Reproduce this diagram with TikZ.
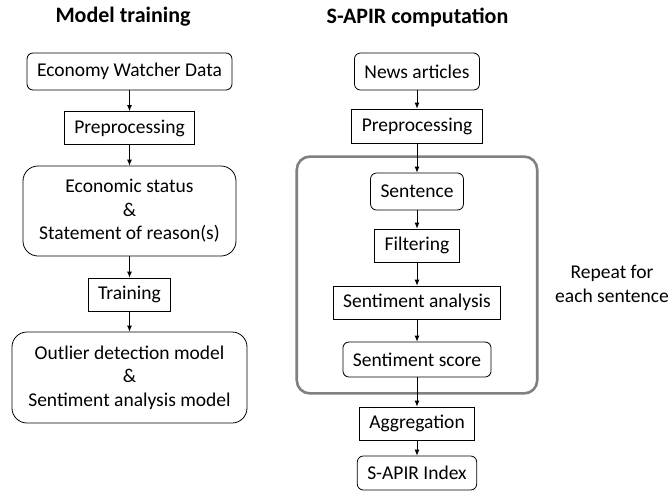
\documentclass[tikz,border=0pt]{standalone}
\usepackage{fontspec}
\setmainfont{Carlito}
\usetikzlibrary{positioning,fit,arrows.meta}
\tikzset{
    >={Latex[length=6pt,width=5pt]}, % small filled heads
    every node/.style={font=\fontsize{19.5}{23.5}\selectfont},
    process/.style={draw, rectangle, line width=0.8pt, inner xsep=10pt, minimum height=33pt},
    data/.style={draw, rectangle, rounded corners=6pt, line width=0.8pt, inner xsep=10pt, minimum height=37pt},
    result/.style={data, rounded corners=15pt, align=center, inner ysep=6pt},
    title/.style={font=\fontsize{22}{26}\selectfont\bfseries},
}

\begin{document}
\begin{tikzpicture}[x=1pt,y=1pt,on grid,line width=0.8pt]
    \useasboundingbox (0,0) rectangle (670,-491);
    % left column: model training
    \node[title] (t_left) at (123,-17) {Model training};
    \node[data] (eco) at (129.5,-71.5) {Economy Watcher Data};
    \node[process] (prep_l) [below=56.5pt of eco] {Preprocessing};
    \node[result, minimum width=213pt, minimum height=90pt] (status) [below=83pt of prep_l] {Economic status\\\&\\Statement of reason(s)};
    \node[process] (train) [below=83.5pt of status] {Training};
    \node[result, minimum width=235pt, minimum height=91pt] (models) [below=83pt of train] {Outlier detection model\\\&\\Sentiment analysis model};
    % right column: S-APIR computation
    \node[title] (t_right) at (417.5,-17) {S-APIR computation};
    \node[data] (news) at (417,-71.5) {News articles};
    \node[process, minimum height=34pt] (prep_r) [below=54.5pt of news] {Preprocessing};
    \node[data] (sent) [below=65.5pt of prep_r] {Sentence};
    \node[process] (filt) [below=54pt of sent] {Filtering};
    \node[process] (sana) [below=57pt of filt] {Sentiment analysis};
    \node[data, minimum height=35pt] (score) [below=57pt of sana] {Sentiment score};
    \node[process] (aggr) [below=64pt of score] {Aggregation};
    \node[data, minimum height=34pt] (index) [below=49.5pt of aggr] {S-APIR Index};
    % loop over sentences
    \node[draw=black!50, line width=2.6pt, rounded corners=13pt, inner xsep=36pt, inner ysep=16pt, fit=(sent)(sana)(score)] (loop) {};
    \node[align=center] (repeat) at (612,-284) {Repeat for\\each sentence};
    \path[->]
    (eco) edge (prep_l)
    (prep_l) edge (status)
    (status) edge (train)
    (train) edge (models)
    (news) edge (prep_r)
    (prep_r) edge (sent)
    (sent) edge (filt)
    (filt) edge (sana)
    (sana) edge (score)
    (score) edge (aggr)
    (aggr) edge (index);
\end{tikzpicture}
\end{document}
